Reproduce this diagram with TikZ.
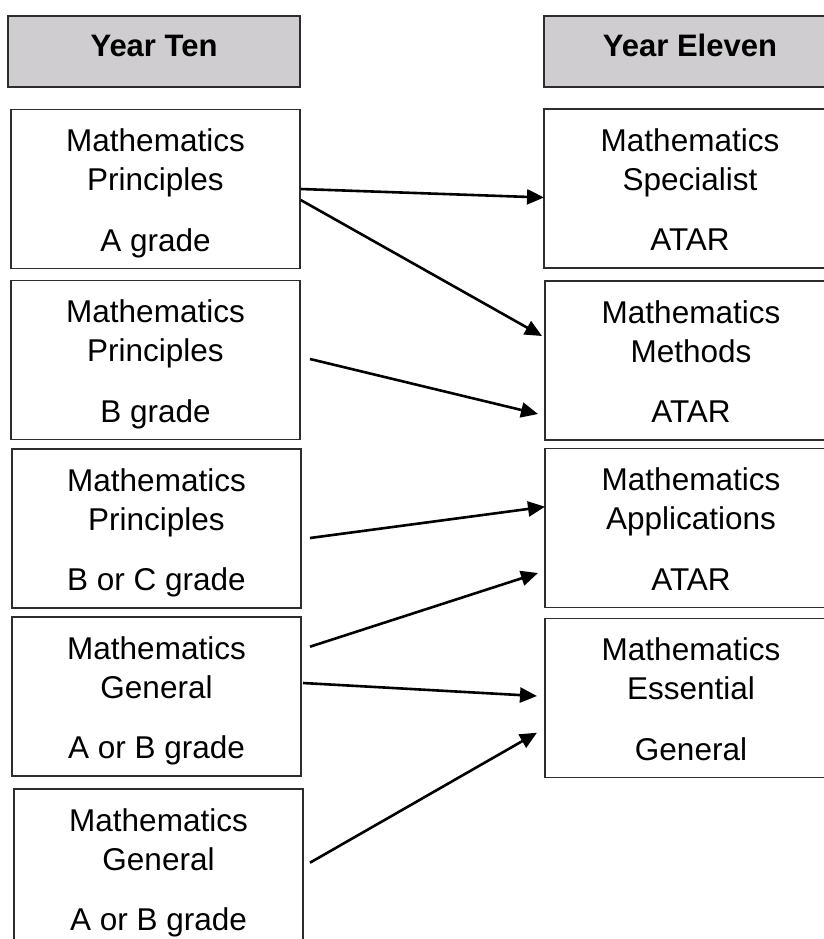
\documentclass[tikz,border=0pt]{standalone}
\usepackage{fontspec}
\setmainfont{Liberation Sans}
\usetikzlibrary{arrows.meta,calc}

\definecolor{hdrfill}{RGB}{207,205,207}
\definecolor{edge}{RGB}{45,45,45}

\tikzset{
  box/.style={draw=edge, line width=1.1pt, fill=white, minimum width=289pt,
              minimum height=159pt, inner sep=0pt, outer sep=0pt},
  % right-hand column: runs off the page, so only three sides are stroked
  rbox/.style={inner sep=0pt, outer sep=0pt, anchor=west, minimum width=300pt,
               minimum height=159pt},
  openedge/.style={draw=edge, line width=1.1pt},
  hdrbox/.style={box, fill=hdrfill, minimum width=292pt, minimum height=71pt},
  txt/.style={anchor=base, inner sep=0pt, font=\fontsize{31.5pt}{38pt}\selectfont},
  hdrtxt/.style={txt, font=\fontsize{31pt}{38pt}\selectfont\bfseries},
  arr/.style={line width=2.6pt, -{Triangle[length=17pt,width=15pt]}}
}

% three lines of text inside a course box, centred on a given column x
\newcommand{\coursetext}[5]{%
  \node[txt] (#1-l1) at ($(#1.north west)+(#2,42)$) {#3};
  \node[txt] (#1-l2) at ($(#1.north west)+(#2,81)$) {#4};
  \node[txt] (#1-l3) at ($(#1.north west)+(#2,141.5)$) {#5};
}
% open frame of a right-hand box
\newcommand{\openframe}[1]{%
  \draw[openedge] (#1.north east) -- (#1.north west) -- (#1.south west) -- (#1.south east);
}

\begin{document}
\begin{tikzpicture}[x=1pt,y=-1pt]
\useasboundingbox (0,0) rectangle (823,939);

% column headers
\node[hdrbox] (hten) at (154,51.5) {};
\node[hdrtxt] at ($(hten.north)+(0,41)$) {Year Ten};
\node[rbox, minimum height=71pt, fill=hdrfill] (heleven) at (544,51.5) {};
\openframe{heleven}
\node[hdrtxt] at ($(heleven.north west)+(146,41)$) {Year Eleven};

% Year Ten courses
\node[box] (b1) at (155.5,189) {};
\coursetext{b1}{144.5}{Mathematics}{Principles}{A grade}
\node[box] (b2) at (155.5,360) {};
\coursetext{b2}{144.5}{Mathematics}{Principles}{B grade}
\node[box] (b3) at (156.5,528.5) {};
\coursetext{b3}{144.5}{Mathematics}{Principles}{B or C grade}
\node[box] (b4) at (156.5,696.5) {};
\coursetext{b4}{144.5}{Mathematics}{General}{A or B grade}
\node[box] (b5) at (158.5,868.5) {};
\coursetext{b5}{144.5}{Mathematics}{General}{A or B grade}

% Year Eleven courses
\node[rbox] (r1) at (544,188.5) {};
\openframe{r1}
\coursetext{r1}{146}{Mathematics}{Specialist}{ATAR}
\node[rbox] (r2) at (545,360.5) {};
\openframe{r2}
\coursetext{r2}{146}{Mathematics}{Methods}{ATAR}
\node[rbox] (r3) at (545,528) {};
\openframe{r3}
\coursetext{r3}{146}{Mathematics}{Applications}{ATAR}
\node[rbox] (r4) at (545,698) {};
\openframe{r4}
\coursetext{r4}{146}{Mathematics}{Essential}{General}

% arrow end points
\coordinate (s1) at ($(b1.east)+(0.7,0)$);
\coordinate (e1) at ($(r1.west)+(0,9)$);
\coordinate (s2) at ($(b1.east)+(0.7,11)$);
\coordinate (e2) at ($(r2.west)+(-3,-24.5)$);
\coordinate (s3) at ($(b2.east)+(10,-1)$);
\coordinate (e3) at ($(r2.west)+(-7,53.5)$);
\coordinate (s4) at ($(b3.east)+(9,9.5)$);
\coordinate (e4) at ($(r3.west)+(0,-21.3)$);
\coordinate (s5) at ($(b4.east)+(9,-49.8)$);
\coordinate (e5) at ($(r3.west)+(-7,45)$);
\coordinate (s6) at ($(b4.east)+(2,-13.5)$);
\coordinate (e6) at ($(r4.west)+(-8,-2)$);
\coordinate (s7) at ($(b5.east)+(7,-5.8)$);
\coordinate (e7) at ($(r4.west)+(-8,34.7)$);

% progression arrows
\draw[arr] (s1) -- (e1);
\draw[arr] (s2) -- (e2);
\draw[arr] (s3) -- (e3);
\draw[arr] (s4) -- (e4);
\draw[arr] (s5) -- (e5);
\draw[arr] (s6) -- (e6);
\draw[arr] (s7) -- (e7);
\end{tikzpicture}
\end{document}
